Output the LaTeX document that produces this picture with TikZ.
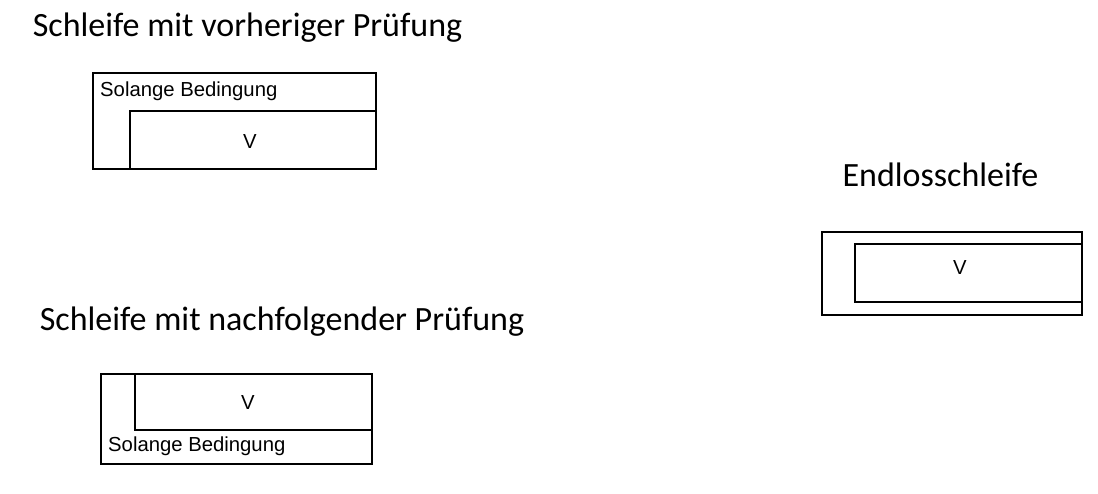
\documentclass[tikz,border=0pt]{standalone}
\usepackage{fontspec}
\setmainfont{Liberation Sans}
\newfontfamily\titlefont{Carlito}
\begin{document}
\begin{tikzpicture}[x=1pt,y=-1pt,
  title/.style={font=\titlefont\fontsize{34}{40}\selectfont, inner sep=0pt},
  boxtext/.style={font=\fontsize{20.3}{24}\selectfont, inner sep=0pt},
  frame/.style={draw, line width=1.3pt, fill=none},
]
\useasboundingbox (0,0) rectangle (1098,494);
% titles
\node[title] (t1) at (247.5,28) {Schleife mit vorheriger Prüfung};
\node[title] (t2) at (282,322) {Schleife mit nachfolgender Prüfung};
\node[title] (t3) at (940.5,175) {Endlosschleife};

% box 1: pre-test loop
\path[frame] (93,73) rectangle (376,169);
\path[frame] (130,111) rectangle (376,169);
\node[boxtext, anchor=west] (c1) at (100,91) {Solange Bedingung};
\node[boxtext] (v1) at (250,142) {V};

% box 2: post-test loop
\path[frame] (101,374) rectangle (372,464);
\path[frame] (135,374) rectangle (372,430);
\node[boxtext, anchor=west] (c2) at (108,446) {Solange Bedingung};
\node[boxtext] (v2) at (248,403) {V};

% box 3: endless loop
\path[frame] (822,232) rectangle (1082,315);
\path[frame] (855,244) rectangle (1082,302);
\node[boxtext] (v3) at (960,268) {V};
\end{tikzpicture}
\end{document}
